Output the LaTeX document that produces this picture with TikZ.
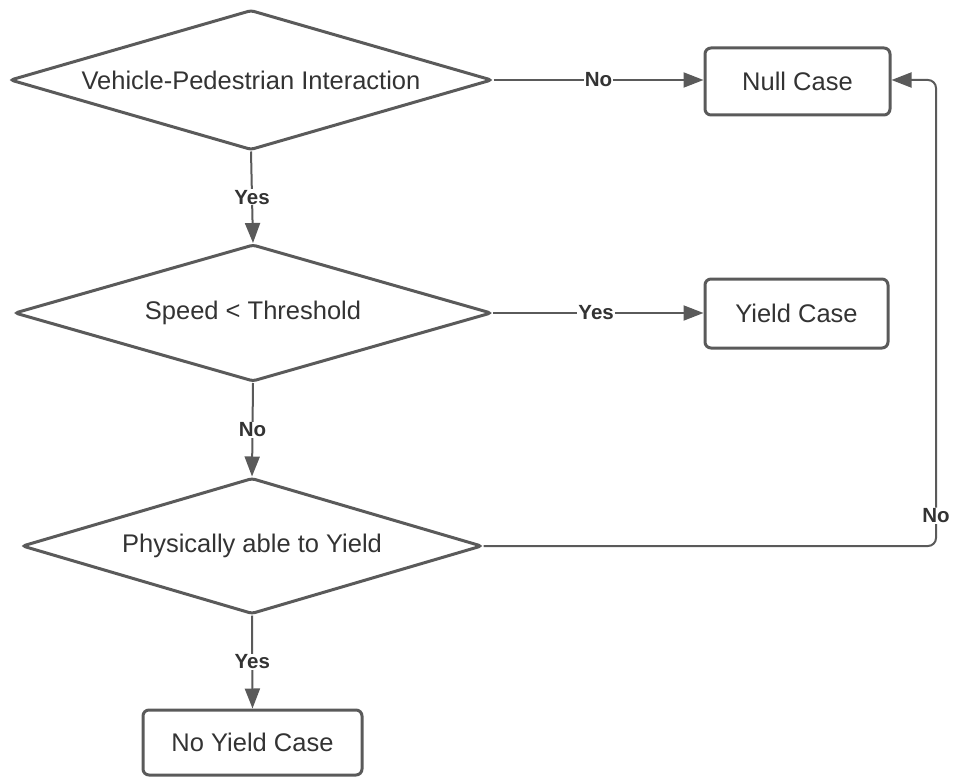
\documentclass[tikz,border=0pt]{standalone}
\usepackage{fontspec}
\setmainfont{Liberation Sans}
\usetikzlibrary{shapes.geometric,arrows.meta}
\definecolor{lc}{HTML}{5A5A5A}
\definecolor{tc}{HTML}{333333}
\begin{document}
\begin{tikzpicture}[x=1pt,y=-1pt,
  dec/.style={diamond,draw=lc,line width=3pt,rounded corners=3pt,inner sep=0pt,text=tc,font=\fontsize{25.5}{30}\selectfont},
  box/.style={rectangle,draw=lc,line width=3pt,rounded corners=6pt,inner sep=0pt,text=tc,font=\fontsize{25.5}{30}\selectfont},
  conn/.style={draw=lc,line width=2pt,-{Triangle[length=20pt,width=15pt]}},
  lbl/.style={fill=white,text=tc,inner sep=1pt,font=\bfseries\fontsize{20.5}{24}\selectfont}]
\useasboundingbox (0,0) rectangle (953,778);
\node[dec,shape aspect=3.443,minimum width=482pt,minimum height=140pt] (d1) at (251,80) {Vehicle-Pedestrian Interaction};
\node[dec,shape aspect=3.48,minimum width=477pt,minimum height=137pt] (d2) at (253,313) {Speed < Threshold};
\node[dec,shape aspect=3.38,minimum width=460pt,minimum height=136pt] (d3) at (252,546) {Physically able to Yield};
\node[box,minimum width=185pt,minimum height=67pt] (null) at (797.5,81.5) {Null Case};
\node[box,minimum width=183pt,minimum height=69pt] (yield) at (796.5,313.5) {Yield Case};
\node[box,minimum width=219pt,minimum height=65pt] (noyield) at (252.5,742.5) {No Yield Case};
\coordinate (c1) at (936,546);
\coordinate (c2) at (936,80);
\draw[conn] (d1.east) -- node[lbl] {No} (d1.east -| null.west);
\draw[conn] (d1.south) -- node[lbl] {Yes} (d2.north);
\draw[conn] (d2.east) -- node[lbl,pos=0.49] {Yes} (d2.east -| yield.west);
\draw[conn] (d2.south) -- node[lbl] {No} (d3.north);
\draw[conn] (d3.south) -- node[lbl] {Yes} (noyield.north);
\draw[conn,rounded corners=8pt] (d3.east) -- (c1) -- node[lbl,pos=0.065] {No} (c2) -- (c2 -| null.east);
\end{tikzpicture}
\end{document}
